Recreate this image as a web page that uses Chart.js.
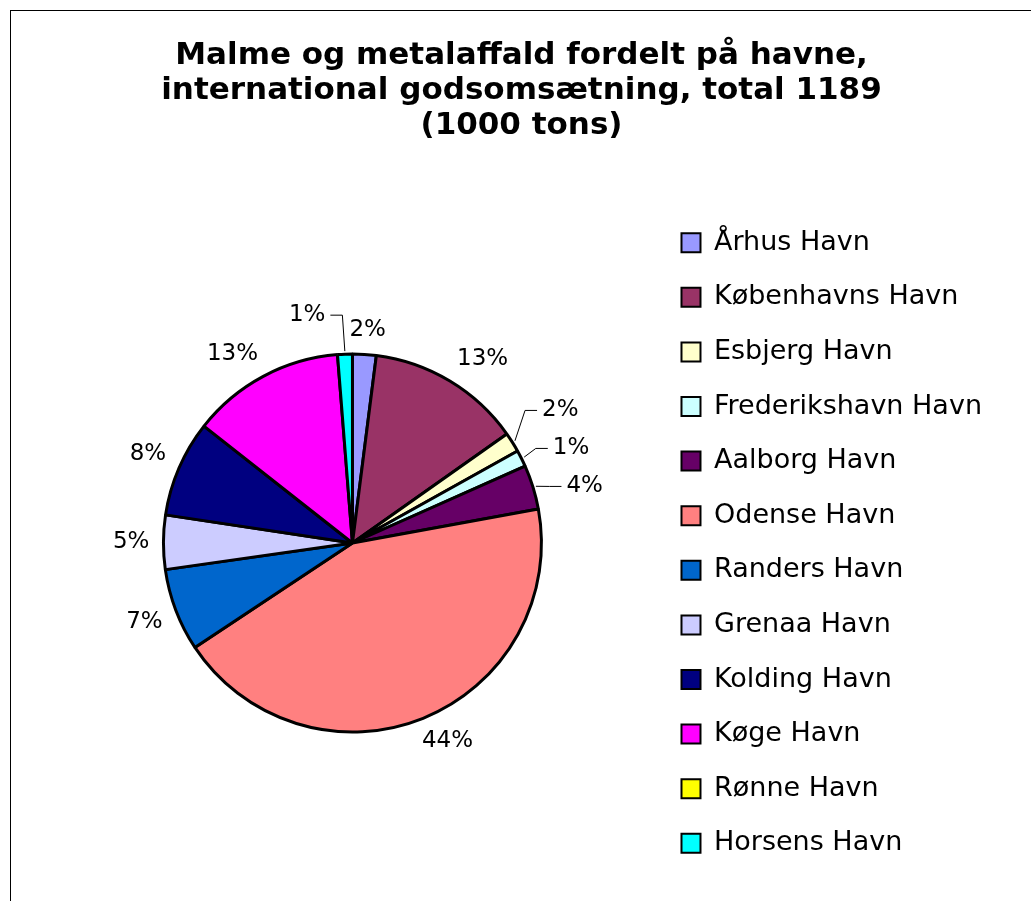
<!DOCTYPE html>
<html>
<head>
<meta charset="utf-8">
<title>Malme og metalaffald fordelt på havne</title>
<script src="https://cdn.jsdelivr.net/npm/chart.js@4/dist/chart.umd.min.js"></script>
<style>
  html, body { margin: 0; padding: 0; background: #fff; overflow: hidden; }
  #frame { position: absolute; left: 10px; top: 10px; width: 1100px; height: 1000px; border: 1px solid #000; }
  #wrap { position: absolute; left: 0; top: 0; width: 1031px; height: 901px; }
</style>
</head>
<body>
<div id="frame"></div>
<div id="wrap"><canvas id="pieChart" width="1031" height="901"></canvas></div>
<script>
// Data (1000 tons)
var ports = ['Århus Havn', 'Københavns Havn', 'Esbjerg Havn', 'Frederikshavn Havn', 'Aalborg Havn',
  'Odense Havn', 'Randers Havn', 'Grenaa Havn', 'Kolding Havn', 'Køge Havn', 'Rønne Havn', 'Horsens Havn'];
var tons = [24, 157, 20, 17, 45, 518, 84, 55, 98, 156, 0, 15];
var colors = ['#9999FF', '#993366', '#FFFFCC', '#CCFFFF', '#660066', '#FF8080',
  '#0066CC', '#CCCCFF', '#000080', '#FF00FF', '#FFFF00', '#00FFFF'];
var titleLines = ['Malme og metalaffald fordelt på havne,', 'international godsomsætning, total 1189', '(1000 tons)'];

var fontFamily = '"DejaVu Sans", Verdana, sans-serif';

function clamp(v) { return Math.max(-1, Math.min(1, v)); }

// Percent labels outside the pie, with leader lines where labels crowd
var pieLabels = {
  id: 'pieLabels',
  afterDatasetsDraw: function(chart) {
    var ctx = chart.ctx;
    var meta = chart.getDatasetMeta(0);
    var data = chart.data.datasets[0].data;
    var total = data.reduce(function(a, b) { return a + b; }, 0);
    var h = 20, gap = 14;
    ctx.save();
    ctx.font = '23px ' + fontFamily;

    function place(it, extra) {
      var rr = it.r + gap + extra;
      it.x = it.cx + it.dx * rr + it.w / 2 * clamp(2 * it.dx);
      it.y = it.cy + it.dy * rr + h / 2 * clamp(2 * it.dy);
    }
    function hits(a, b) {
      return Math.abs(a.x - b.x) < (a.w + b.w) / 2 + 4 && Math.abs(a.y - b.y) < 38;
    }

    var items = [];
    meta.data.forEach(function(arc, i) {
      if (!data[i]) return;
      var p = arc.getProps(['x', 'y', 'startAngle', 'endAngle', 'outerRadius'], true);
      var mid = (p.startAngle + p.endAngle) / 2;
      var text = Math.round(data[i] / total * 100) + '%';
      var it = { text: text, w: ctx.measureText(text).width, dx: Math.cos(mid), dy: Math.sin(mid),
        cx: p.x, cy: p.y, r: p.outerRadius, value: data[i], group: items.length, leader: false };
      place(it, 0);
      items.push(it);
    });

    // group neighbouring labels that collide (wrapping round the pie)
    var n = items.length;
    for (var k = 0; k < n; k++) {
      var a = items[k], b = items[(k + 1) % n];
      if (hits(a, b)) {
        var from = b.group, to = a.group;
        items.forEach(function(it) { if (it.group === from) it.group = to; });
      }
    }
    var groups = {};
    items.forEach(function(it) { (groups[it.group] = groups[it.group] || []).push(it); });

    Object.keys(groups).forEach(function(key) {
      var g = groups[key];
      if (g.length < 2) return;
      var sx = 0, sy = 0;
      g.forEach(function(it) { sx += Math.abs(it.dx); sy += Math.abs(it.dy); });
      if (sx >= sy) {
        // side cluster: push out and stack vertically
        var meanY = g.reduce(function(s, it) { return s + it.y; }, 0) / g.length;
        g.sort(function(p, q) { return p.y - q.y; });
        g.forEach(function(it, j) {
          place(it, 21);
          it.y = meanY + (j - (g.length - 1) / 2) * 38;
          it.leader = true;
        });
      } else {
        // top/bottom cluster: biggest slice keeps its place, the others step aside
        var keep = g.reduce(function(m, it) { return it.value > m.value ? it : m; }, g[0]);
        g.forEach(function(it) {
          if (it === keep) return;
          var left = it.x < keep.x;
          place(it, 15);
          it.x = left ? keep.x - keep.w / 2 - 24 - it.w / 2 : keep.x + keep.w / 2 + 24 + it.w / 2;
          it.leader = true;
        });
      }
    });

    ctx.strokeStyle = '#000';
    ctx.lineWidth = 1;
    ctx.fillStyle = '#000';
    ctx.textAlign = 'center';
    ctx.textBaseline = 'middle';
    items.forEach(function(it) {
      if (it.leader) {
        var rx = it.cx + it.dx * (it.r + 3), ry = it.cy + it.dy * (it.r + 3);
        var s = it.x > rx ? -1 : 1;
        var near = s < 0 ? it.x - it.w / 2 : it.x + it.w / 2;
        ctx.beginPath();
        ctx.moveTo(rx, ry);
        ctx.lineTo(near + s * 17, it.y);
        ctx.lineTo(near + s * 5, it.y);
        ctx.stroke();
      }
      ctx.fillText(it.text, it.x, it.y);
    });
    ctx.restore();
  }
};

new Chart(document.getElementById('pieChart'), {
  type: 'pie',
  data: {
    labels: ports,
    datasets: [{
      data: tons,
      backgroundColor: colors,
      borderColor: '#000',
      borderWidth: 3,
      radius: 189,
      hoverOffset: 0
    }]
  },
  options: {
    responsive: false,
    animation: false,
    layout: { padding: { left: 51, right: 39, top: 0, bottom: 0 } },
    plugins: {
      title: {
        display: true,
        text: titleLines,
        color: '#000',
        font: { family: fontFamily, size: 31, weight: 'bold', lineHeight: '35px' },
        padding: { top: 38, bottom: 42 }
      },
      legend: {
        position: 'right',
        fullSize: false,
        labels: {
          color: '#000',
          font: { family: fontFamily, size: 27 },
          boxWidth: 19,
          boxHeight: 19,
          padding: 27.6,
          generateLabels: function(chart) {
            var items = Chart.overrides.doughnut.plugins.legend.labels.generateLabels(chart);
            items.forEach(function(it) { it.lineWidth = 2; });
            return items;
          }
        }
      },
      tooltip: { enabled: false }
    }
  },
  plugins: [pieLabels]
});
</script>
</body>
</html>
